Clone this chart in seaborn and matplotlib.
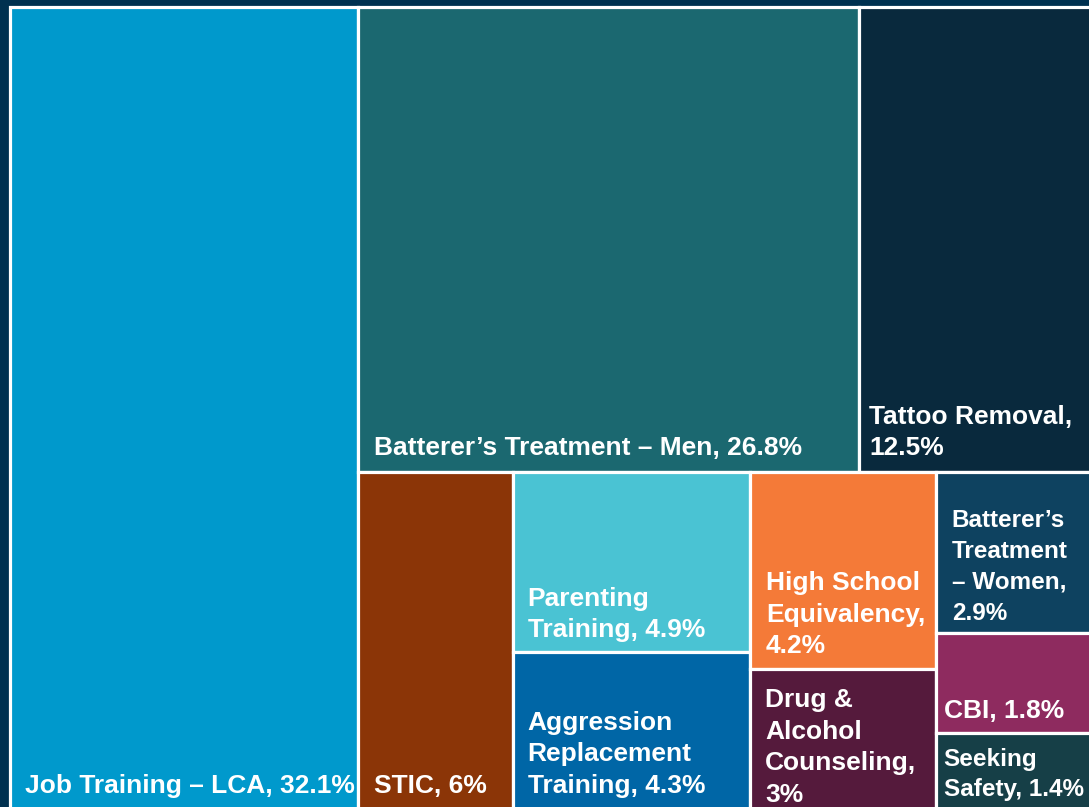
import matplotlib
matplotlib.use("Agg")
import matplotlib.pyplot as plt
import seaborn as sns
from matplotlib.patches import Rectangle

# ---- data ----
categories = ["Job Training – LCA", "Batterer’s Treatment – Men", "Tattoo Removal",
              "STIC", "Parenting Training", "Aggression Replacement Training",
              "High School Equivalency", "Drug & Alcohol Counseling",
              "Batterer’s Treatment – Women", "CBI", "Seeking Safety"]
shares = [32.1, 26.8, 12.5, 6.0, 4.9, 4.3, 4.2, 3.0, 2.9, 1.8, 1.4]
share_text = ["32.1%", "26.8%", "12.5%", "6%", "4.9%", "4.3%", "4.2%", "3%",
              "2.9%", "1.8%", "1.4%"]
label_lines = ["Job Training – LCA, 32.1%",
               "Batterer’s Treatment – Men, 26.8%",
               "Tattoo Removal,\n12.5%",
               "STIC, 6%",
               "Parenting\nTraining, 4.9%",
               "Aggression\nReplacement\nTraining, 4.3%",
               "High School\nEquivalency,\n4.2%",
               "Drug &\nAlcohol\nCounseling,\n3%",
               "Batterer’s\nTreatment\n– Women,\n2.9%",
               "CBI, 1.8%",
               "Seeking\nSafety, 1.4%"]
colors = ["#0099CC", "#1B6870", "#09293D", "#8B3507", "#4AC3D3", "#0066A6",
          "#F47A38", "#551A3C", "#0E4260", "#8E2B5F", "#163F47"]
# grouping of the treemap (indices into the lists above)
hierarchy = [0, [[1, 2], [3, [4, 5], [6, 7], [8, 9, 10]]]]

# ---- style ----
sns.set_theme(style="white")
plt.rcParams["font.family"] = ["Liberation Sans", "DejaVu Sans"]
BG = "#003150"

W, H = 1083.0, 803.0  # layout units = pixels


def total(node):
    if isinstance(node, int):
        return shares[node]
    return sum(total(c) for c in node)


def layout(node, x, y, w, h, horiz, out):
    if isinstance(node, int):
        out[node] = (x, y, w, h)
        return
    s = total(node)
    off = 0.0
    for child in node:
        f = total(child) / s
        if horiz:
            layout(child, x + off, y, w * f, h, not horiz, out)
            off += w * f
        else:
            layout(child, x, y + off, w, h * f, not horiz, out)
            off += h * f


rects = {}
layout(hierarchy, 0.0, 0.0, W, H, True, rects)

fig = plt.figure(figsize=(10.89, 8.07), dpi=100, facecolor=BG)
ax = fig.add_axes([10 / 1089, 1 - (7 + H) / 807, W / 1089, H / 807])
ax.set_xlim(0, W)
ax.set_ylim(H, 0)
ax.axis("off")

font_sizes = [19, 19, 19, 19, 19, 19, 19, 19, 17.5, 19, 17.5]
left_pad = [15, 16, 10, 16, 15, 15, 16, 15, 16, 8, 8]
bottom_pad = [17, 17, 17, 17, 15, 17, 16, 8, 13, 15, 14]
line_gap = [1.4, 1.4, 1.4, 1.4, 1.4, 1.4, 1.4, 1.4, 1.45, 1.4, 1.4]

for i in range(len(categories)):
    x, y, w, h = rects[i]
    ax.add_patch(Rectangle((x, y), w, h, facecolor=colors[i], edgecolor="white",
                           linewidth=2.3, clip_on=False))
    ax.text(x + left_pad[i], y + h - bottom_pad[i], label_lines[i],
            color="white", fontsize=font_sizes[i], fontweight="bold",
            ha="left", va="baseline", linespacing=line_gap[i], clip_on=False)

fig.savefig("out.png", dpi=100, facecolor=BG)
